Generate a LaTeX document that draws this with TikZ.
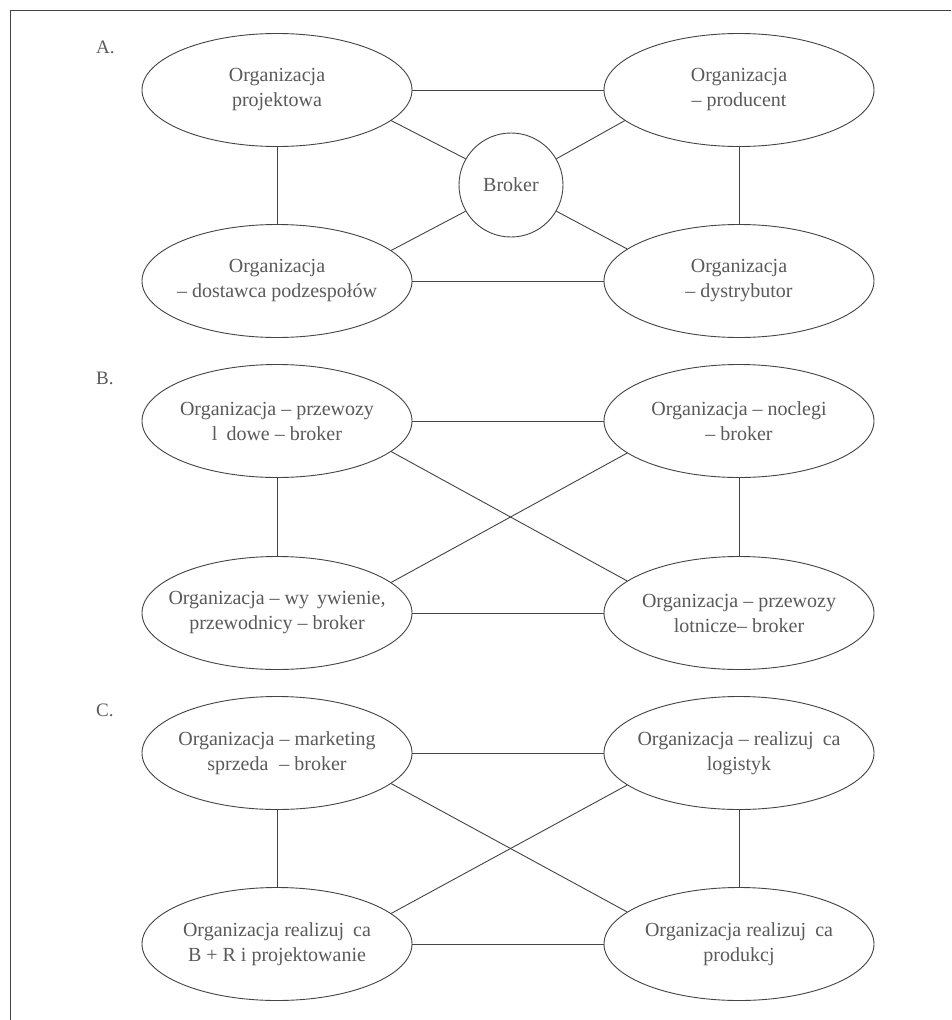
\documentclass[tikz,border=0pt]{standalone}
\usepackage{fontspec}
\setmainfont{Liberation Serif}
\usetikzlibrary{shapes.geometric}
\definecolor{txt}{HTML}{5A5A5A}
\definecolor{ln}{HTML}{444444}
\begin{document}
\begin{tikzpicture}[x=1pt,y=-1pt,
  org/.style={ellipse, draw=ln, line width=0.9pt, minimum width=270pt, minimum height=113pt, inner xsep=-40pt, inner ysep=0pt, align=center, text=txt, font=\fontsize{20}{25}\selectfont},
  brk/.style={circle, draw=ln, line width=0.9pt, minimum size=104pt, inner sep=0pt, text=txt, font=\fontsize{20}{25}\selectfont},
  conn/.style={draw=ln, line width=0.9pt},
  lbl/.style={anchor=west, text=txt, font=\fontsize{19}{22}\selectfont, inner sep=0pt}]
\useasboundingbox (0,0) rectangle (951,1020);
\fill[white] (0,0) rectangle (951,1020);
\draw[ln, line width=0.9pt] (10,1020) -- (10,10) -- (951,10);

% ---------- A ----------
\node[lbl] (la) at (96,47) {A.};
\node[org] (a1) at (277,90) {Organizacja\\projektowa};
\node[org] (a2) at (739,90) {Organizacja\\– producent};
\node[org] (a3) at (277,281) {Organizacja\\– dostawca podzespołów};
\node[org] (a4) at (739,281) {Organizacja\\– dystrybutor};
\node[brk] (br) at (511,185) {Broker};
\draw[conn] (a1.east) -- (a2.west);
\draw[conn] (a3.east) -- (a4.west);
\draw[conn] (a1.south) -- (a3.north);
\draw[conn] (a2.south) -- (a4.north);
\draw[conn] (a1.-15) -- (br.150);
\draw[conn] (a2.195) -- (br.30);
\draw[conn] (a3.15) -- (br.210);
\draw[conn] (a4.164) -- (br.-30);

% ---------- B ----------
\node[lbl] (lb) at (96,378) {B.};
\node[org] (b1) at (277,421) {Organizacja – przewozy\\l\hspace{0.45em}dowe – broker};
\node[org] (b2) at (739,421) {Organizacja – noclegi\\– broker};
\node[org] (b3) at (277,613) {Organizacja – wy\hspace{0.4em}ywienie,\\przewodnicy – broker};
\node[org] (b4) at (739,613) {Organizacja – przewozy\\lotnicze– broker};
\draw[conn] (b1.east) -- (b2.west);
\draw[conn] (b3.east) -- (b4.west);
\draw[conn] (b1.south) -- (b3.north);
\draw[conn] (b2.south) -- (b4.north);
\draw[conn] (b1.-15) -- (b4.164);
\draw[conn] (b3.15) -- (b2.196);

% ---------- C ----------
\node[lbl] (lc) at (96,710) {C.};
\node[org] (c1) at (277,753) {Organizacja – marketing\\sprzeda\hspace{0.3em} – broker};
\node[org] (c2) at (739,753) {Organizacja – realizuj\hspace{0.45em}ca\\logistyk};
\node[org] (c3) at (277,944) {Organizacja realizuj\hspace{0.45em}ca\\B + R i projektowanie};
\node[org] (c4) at (739,944) {Organizacja realizuj\hspace{0.45em}ca\\produkcj};
\draw[conn] (c1.east) -- (c2.west);
\draw[conn] (c3.east) -- (c4.west);
\draw[conn] (c1.south) -- (c3.north);
\draw[conn] (c2.south) -- (c4.north);
\draw[conn] (c1.-15) -- (c4.164);
\draw[conn] (c3.15) -- (c2.196);
\end{tikzpicture}
\end{document}
